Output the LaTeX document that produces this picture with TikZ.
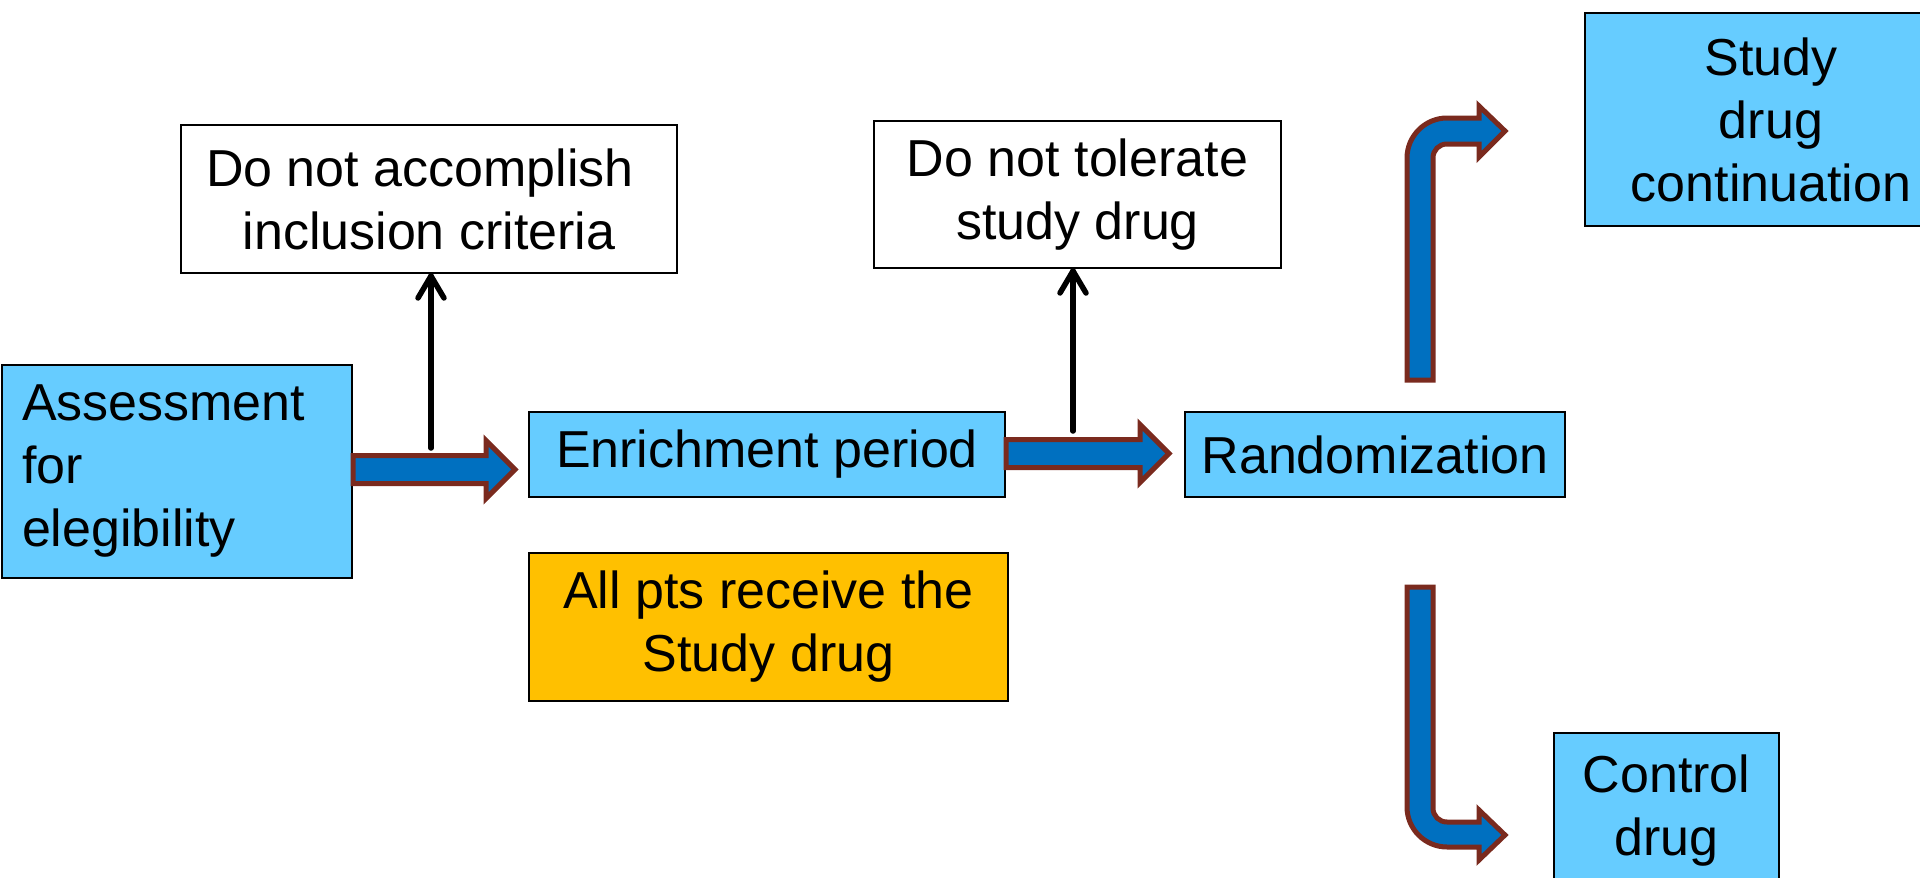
\documentclass[tikz,border=0pt]{standalone}
\usepackage{fontspec}
\setmainfont{Liberation Sans}
\usetikzlibrary{arrows.meta,calc}
\definecolor{boxblue}{HTML}{66CCFF}
\definecolor{orng}{HTML}{FFC000}
\definecolor{arrblue}{HTML}{0070C0}
\definecolor{arrbrd}{HTML}{7A2A1E}
\newcommand\harrow[2]{%
  \draw[blockarrow] let \p1=(#1), \p2=(#2) in
    (\x1,\y1+14pt) -- (\x2-29pt,\y1+14pt) -- (\x2-29pt,\y1+29pt) -- (\x2,\y1)
    -- (\x2-29pt,\y1-29pt) -- (\x2-29pt,\y1-14pt) -- (\x1,\y1-14pt) -- cycle;}
\newcommand\uparrowline[2]{%
  \draw[thinline] (#1) -- (#2);
  \draw[thinline, line join=round] ($(#2)+(-13,22)$) -- (#2) -- ($(#2)+(13,22)$);}
\begin{document}
\begin{tikzpicture}[x=1pt,y=-1pt,
  font=\fontsize{52}{63}\selectfont,
  box/.style={draw=black, line width=2pt, inner sep=0pt, align=center, anchor=north west},
  bluebox/.style={box, fill=boxblue},
  whitebox/.style={box, fill=white},
  blockarrow/.style={draw=arrbrd, fill=arrblue, line width=5pt, line join=miter},
  thinline/.style={line width=5.5pt, line cap=round}]
\useasboundingbox (0,0) rectangle (1920,878);
\node[bluebox, minimum width=350pt, minimum height=213pt, text width=310pt, align=left] (assess) at (1,364) {Assessment\\for\\elegibility};
\node[bluebox, minimum width=476pt, minimum height=85pt] (enrich) at (528,411) {Enrichment period};
\node[bluebox, minimum width=380pt, minimum height=85pt] (rand) at (1184,411) {Randomization};
\node[whitebox, minimum width=496pt, minimum height=148pt] (dnac) at (180,124) {Do not accomplish\hspace*{18pt}\\inclusion criteria};
\node[whitebox, minimum width=407pt, minimum height=147pt] (dnt) at (873,120) {Do not tolerate\\study drug};
\node[box, fill=orng, minimum width=479pt, minimum height=148pt] (allpts) at (528,552) {All pts receive the\\Study drug};
\node[bluebox, minimum width=372pt, minimum height=213pt] (sdc) at (1584,12) {Study\\drug\\continuation};
\node[bluebox, minimum width=225pt, minimum height=155pt] (ctrl) at (1553,732) {Control\\drug};
% block arrows
\coordinate (a1s) at ($(assess.east)+(0,-2)$);
\coordinate (a1t) at ($(enrich.west)+(-13,0)$);
\harrow{a1s}{a1t}
\coordinate (a2s) at ($(enrich.east)+(0,-1)$);
\coordinate (a2t) at ($(rand.west)+(-15,0)$);
\harrow{a2s}{a2t}
% thin arrows
\coordinate (u1) at (431,448);
\coordinate (u1e) at ($(u1 |- dnac.south)+(0,2)$);
\uparrowline{u1}{u1e}
\coordinate (u2) at (1073,431);
\coordinate (u2e) at ($(u2 |- dnt.south)+(0,2)$);
\uparrowline{u2}{u2e}
% bent arrows
\draw[blockarrow] (1407,380) -- (1407,158) .. controls (1407,136) and (1425,118) .. (1447,118)
  -- (1479,118) -- (1479,106) -- (1505,131) -- (1479,157) -- (1479,144) -- (1447,144)
  .. controls (1439,144) and (1433,150) .. (1433,158) -- (1433,380) -- cycle;
\draw[blockarrow] (1407,587) -- (1407,807) .. controls (1407,829) and (1425,847) .. (1447,847)
  -- (1479,847) -- (1479,860) -- (1505,835) -- (1479,810) -- (1479,822) -- (1447,822)
  .. controls (1439,822) and (1433,816) .. (1433,808) -- (1433,587) -- cycle;
\end{tikzpicture}
\end{document}
